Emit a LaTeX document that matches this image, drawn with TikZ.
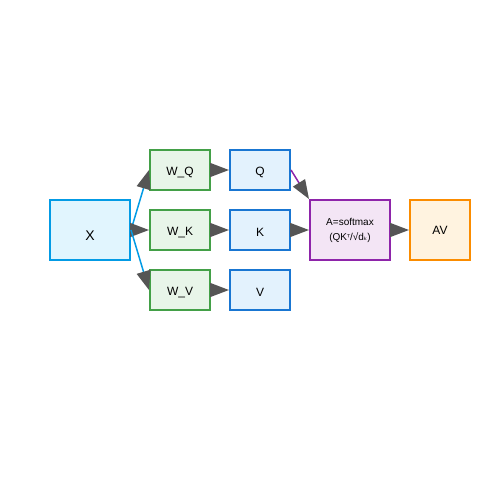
\documentclass[tikz,border=0pt]{standalone}
\usepackage{fontspec}
\setmainfont{Liberation Sans}
\newfontfamily\dvfont{DejaVu Sans}
\usetikzlibrary{arrows.meta}
\definecolor{xfill}{HTML}{E1F5FE}\definecolor{xdraw}{HTML}{039BE5}
\definecolor{wfill}{HTML}{E8F5E9}\definecolor{wdraw}{HTML}{43A047}
\definecolor{qfill}{HTML}{E3F2FD}\definecolor{qdraw}{HTML}{1976D2}
\definecolor{afill}{HTML}{F3E5F5}\definecolor{adraw}{HTML}{8E24AA}
\definecolor{ofill}{HTML}{FFF3E0}\definecolor{odraw}{HTML}{FB8C00}
\definecolor{tipgray}{HTML}{555555}
\tikzset{
  box/.style={draw, line width=2pt, inner sep=0pt, anchor=center, font=\fontsize{12}{14}\selectfont, text=black},
  xbox/.style={box, fill=xfill, draw=xdraw, minimum width=80pt, minimum height=60pt},
  wbox/.style={box, fill=wfill, draw=wdraw, minimum width=60pt, minimum height=40pt},
  qbox/.style={box, fill=qfill, draw=qdraw, minimum width=60pt, minimum height=40pt},
  abox/.style={box, fill=afill, draw=adraw, minimum width=80pt, minimum height=60pt},
  obox/.style={box, fill=ofill, draw=odraw, minimum width=60pt, minimum height=60pt},
  tx/.style={label={[yshift=-2.5pt, inner sep=0pt, font=\fontsize{12}{14}\selectfont]center:#1}},
  conn/.style={line width=1.5pt, -{Triangle[length=19pt,width=14pt,color=tipgray]}},
}
\begin{document}
\begin{tikzpicture}[x=1pt,y=-1pt]
\useasboundingbox (0,0) rectangle (500,500);
\node[xbox, label={[yshift=-5.5pt, inner sep=0pt, font=\fontsize{14}{16}\selectfont]center:X}] (X) at (90,230) {};
\node[wbox, tx=W\_Q] (WQ) at (180,170) {};
\node[wbox, tx=W\_K] (WK) at (180,230) {};
\node[wbox, tx=W\_V] (WV) at (180,290) {};
\node[qbox, tx=Q] (Q) at (260,170) {};
\node[qbox, tx=K] (K) at (260,230) {};
\node[qbox, tx=V] (V) at (260,290) {};
\node[abox, align=center, font=\fontsize{10}{15}\selectfont] (A) at (350,230) {A=softmax\\(QK{\dvfont\fontsize{8}{10}\selectfont ᵀ}/√d{\dvfont\fontsize{8}{10}\selectfont ₖ})};
\node[obox] (AV) at (440,230) {AV};
\draw[conn, draw=xdraw] (X.east) -- (WQ.west);
\draw[conn, draw=xdraw] (X.east) -- (WK.west);
\draw[conn, draw=xdraw] (X.east) -- (WV.west);
\draw[conn, draw=qdraw] (WQ.east) -- (Q.west);
\draw[conn, draw=qdraw] (WK.east) -- (K.west);
\draw[conn, draw=qdraw] (WV.east) -- (V.west);
\draw[conn, draw=adraw] (Q.east) -- (A.north west);
\draw[conn, draw=adraw] (K.east) -- (A.west);
\draw[conn, draw=odraw] (A.east) -- (AV.west);
\end{tikzpicture}
\end{document}
